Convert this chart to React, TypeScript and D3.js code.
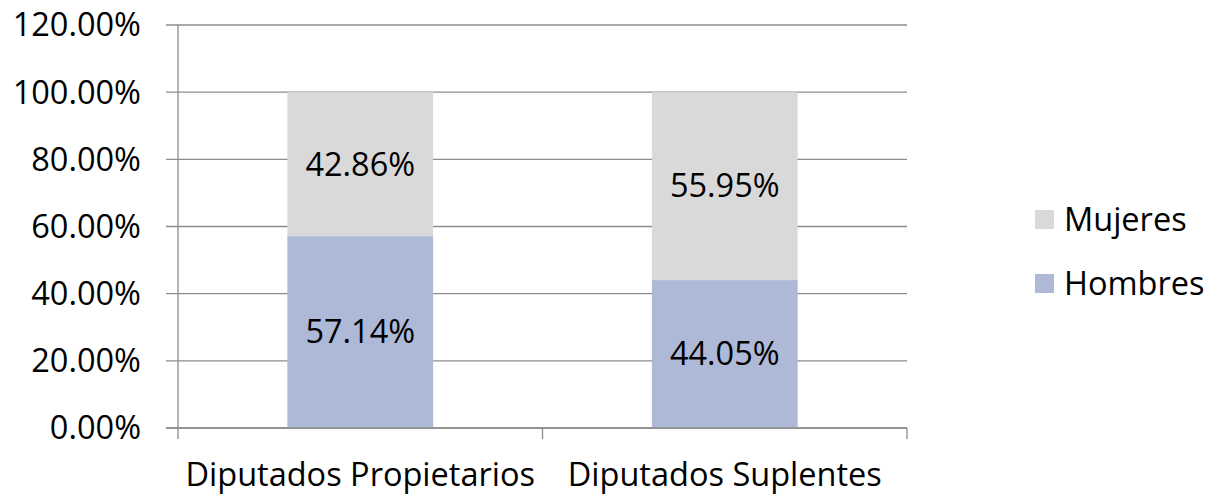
import React, { useEffect, useRef } from 'react';
import * as d3 from 'd3';

const categories = ['Diputados Propietarios', 'Diputados Suplentes'];
const hombres = [57.14, 44.05];
const mujeres = [42.86, 55.95];
const yTicks = [0, 20, 40, 60, 80, 100, 120];
const seriesNames = ['Mujeres', 'Hombres'];
const seriesColors = ['#d9d9d9', '#adb9d6'];

const App = () => {
  const svgRef = useRef<SVGSVGElement>(null);

  useEffect(() => {
    document.body.style.margin = '0';
    const svg = d3.select(svgRef.current);
    svg.selectAll('*').remove();

    const width = 1207;
    const height = 495;
    const left = 178;
    const right = 907;
    const top = 25;
    const bottom = 428;
    const font = '"Open Sans", "Noto Sans", sans-serif';
    const fontSize = 32.5;

    const x = d3.scaleBand().domain(categories).range([left, right]).paddingInner(0.6).paddingOuter(0.3);
    const y = d3.scaleLinear().domain([0, 120]).range([bottom, top]);

    svg.attr('width', width).attr('height', height);

    // gridlines
    svg.append('g')
      .selectAll('line')
      .data(yTicks)
      .join('line')
      .attr('x1', left - 12)
      .attr('x2', right)
      .attr('y1', (d) => y(d))
      .attr('y2', (d) => y(d))
      .attr('stroke', '#8c8c8c')
      .attr('stroke-width', 1.3);

    // stacked bars
    const rows = categories.map((c, i) => ({ cat: c, Hombres: hombres[i], Mujeres: mujeres[i] }));
    const stack = d3.stack<any>().keys(['Hombres', 'Mujeres']);
    const layers = stack(rows);
    const color = d3.scaleOrdinal<string>().domain(seriesNames).range(seriesColors);

    layers.forEach((layer) => {
      const g = svg.append('g');
      g.selectAll('rect')
        .data(layer)
        .join('rect')
        .attr('x', (d: any) => x(d.data.cat)!)
        .attr('width', x.bandwidth())
        .attr('y', (d) => y(d[1]))
        .attr('height', (d) => y(d[0]) - y(d[1]))
        .attr('fill', color(layer.key));
      g.selectAll('text')
        .data(layer)
        .join('text')
        .attr('x', (d: any) => x(d.data.cat)! + x.bandwidth() / 2)
        .attr('y', (d) => y((d[0] + d[1]) / 2))
        .attr('dy', '0.35em')
        .attr('text-anchor', 'middle')
        .attr('font-family', font)
        .attr('font-size', fontSize)
        .attr('fill', '#000')
        .text((d) => (d[1] - d[0]).toFixed(2) + '%');
    });

    // axes lines
    svg.append('line')
      .attr('x1', left).attr('x2', left)
      .attr('y1', top).attr('y2', bottom)
      .attr('stroke', '#8c8c8c').attr('stroke-width', 1.3);
    svg.append('line')
      .attr('x1', left - 12).attr('x2', right)
      .attr('y1', bottom).attr('y2', bottom)
      .attr('stroke', '#8c8c8c').attr('stroke-width', 1.3);

    const bandEdges = [left, ...categories.map((c) => x(c)! + x.bandwidth() / 2 + x.step() / 2)];
    svg.append('g')
      .selectAll('line')
      .data(bandEdges)
      .join('line')
      .attr('x1', (d) => d).attr('x2', (d) => d)
      .attr('y1', bottom).attr('y2', bottom + 11)
      .attr('stroke', '#8c8c8c').attr('stroke-width', 1.3);

    // y labels
    svg.append('g')
      .selectAll('text')
      .data(yTicks)
      .join('text')
      .attr('x', 141)
      .attr('y', (d) => y(d))
      .attr('dy', '0.35em')
      .attr('text-anchor', 'end')
      .attr('font-family', font)
      .attr('font-size', fontSize)
      .attr('fill', '#000')
      .text((d) => d.toFixed(2) + '%');

    // x labels
    svg.append('g')
      .selectAll('text')
      .data(categories)
      .join('text')
      .attr('x', (d) => x(d)! + x.bandwidth() / 2)
      .attr('y', 486)
      .attr('text-anchor', 'middle')
      .attr('font-family', font)
      .attr('font-size', fontSize)
      .attr('fill', '#000')
      .text((d) => d);

    // legend
    const legend = svg.append('g');
    const legendY = [220, 284];
    seriesNames.forEach((name, i) => {
      legend.append('rect')
        .attr('x', 1035)
        .attr('y', legendY[i] - 10)
        .attr('width', 19)
        .attr('height', 19)
        .attr('fill', seriesColors[i]);
      legend.append('text')
        .attr('x', 1064)
        .attr('y', legendY[i])
        .attr('dy', '0.35em')
        .attr('font-family', font)
        .attr('font-size', fontSize)
        .attr('fill', '#000')
        .text(name);
    });
  }, []);

  return <svg ref={svgRef} width={1207} height={495} />;
};

export default App;
